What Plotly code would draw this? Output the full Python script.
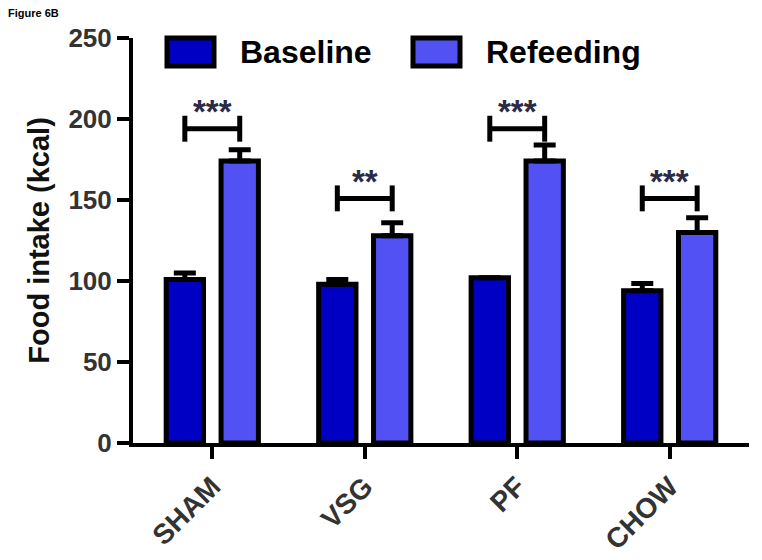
import plotly.graph_objects as go

groups = ["SHAM", "VSG", "PF", "CHOW"]
baseline = [101, 98, 102, 94]
baseline_err = [4, 3, 0, 4.5]
refeeding = [174, 128, 174, 130]
refeeding_err = [7, 8, 10, 9]
sig_labels = ["***", "**", "***", "***"]
sig_y = [194, 151, 194, 151]
y_ticks = [0, 50, 100, 150, 200, 250]

FONT = "Liberation Sans, Arial, sans-serif"
C_BASE = "#0000C4"
C_REF = "#5252F4"

# page offset from default body margin
OFF = 8
# plot area in page pixels
L, R, T, B = 133, 749, 38, 443
W, H = 762 - OFF, 560 - OFF


def px_x(px):
    return (px - L) / (R - L)


def px_y(py):
    return (B - py) / (B - T)


fig = go.Figure()
fig.add_trace(go.Bar(
    x=groups, y=baseline, name="Baseline",
    marker=dict(color=C_BASE, line=dict(color="black", width=5)),
    error_y=dict(type="data", array=baseline_err, arrayminus=[0] * len(groups),
                 symmetric=False, color="black", thickness=5, width=11),
    showlegend=False,
))
fig.add_trace(go.Bar(
    x=groups, y=refeeding, name="Refeeding",
    marker=dict(color=C_REF, line=dict(color="black", width=5)),
    error_y=dict(type="data", array=refeeding_err, arrayminus=[0] * len(groups),
                 symmetric=False, color="black", thickness=5, width=11),
    showlegend=False,
))

shapes = []
annotations = []
off = 0.18
hh = 8
for i, (lab, yv) in enumerate(zip(sig_labels, sig_y)):
    x0, x1 = i - off, i + off
    line = dict(color="black", width=5)
    shapes.append(dict(type="line", xref="x", yref="y", x0=x0, x1=x1, y0=yv, y1=yv, line=line))
    shapes.append(dict(type="line", xref="x", yref="y", x0=x0, x1=x0, y0=yv - hh, y1=yv + hh, line=line))
    shapes.append(dict(type="line", xref="x", yref="y", x0=x1, x1=x1, y0=yv - hh, y1=yv + hh, line=line))
    annotations.append(dict(x=i, y=yv, xref="x", yref="y", text=lab, showarrow=False,
                            yanchor="middle", yshift=17,
                            font=dict(family=FONT, size=33, color="#2b2b45", weight="bold")))

# manual legend
for (x0p, name, col) in [(167, "Baseline", C_BASE), (413, "Refeeding", C_REF)]:
    shapes.append(dict(type="rect", xref="paper", yref="paper",
                       x0=px_x(x0p), x1=px_x(x0p + 47), y0=px_y(66), y1=px_y(38),
                       fillcolor=col, line=dict(color="black", width=5)))
    annotations.append(dict(x=px_x(x0p + 71), y=px_y(52), xref="paper", yref="paper",
                            text=name, showarrow=False, xanchor="left", yanchor="middle",
                            font=dict(family=FONT, size=32, color="black", weight="bold")))

annotations.append(dict(x=px_x(6), y=px_y(13), xref="paper", yref="paper", text="Figure 6B",
                        showarrow=False, xanchor="left", yanchor="middle",
                        font=dict(family=FONT, size=11, color="black", weight="bold")))

fig.update_layout(
    width=W, height=H,
    margin=dict(l=L - OFF, r=W - (R - OFF), t=T - OFF, b=H - (B - OFF), autoexpand=False),
    paper_bgcolor="white", plot_bgcolor="white",
    barmode="group", bargap=0.28, bargroupgap=0.32,
    shapes=shapes, annotations=annotations,
    xaxis=dict(
        range=[-0.52, 3.52], showline=True, linecolor="black", linewidth=4,
        ticks="outside", ticklen=12, tickwidth=4, tickcolor="black", automargin=False,
        tickangle=-45, showgrid=False, zeroline=False,
        tickfont=dict(family=FONT, size=28, color="#333333", weight="bold"),
    ),
    yaxis=dict(
        range=[0, 250], tickvals=y_ticks, showline=True, linecolor="black", linewidth=4,
        ticks="outside", ticklen=12, tickwidth=4, tickcolor="black", automargin=False,
        showgrid=False, zeroline=False,
        tickfont=dict(family=FONT, size=26, color="#333333", weight="bold"),
        title=dict(text="Food intake (kcal)", standoff=11,
                   font=dict(family=FONT, size=29, color="#111111", weight="bold")),
    ),
)

fig.write_html("out.html")
